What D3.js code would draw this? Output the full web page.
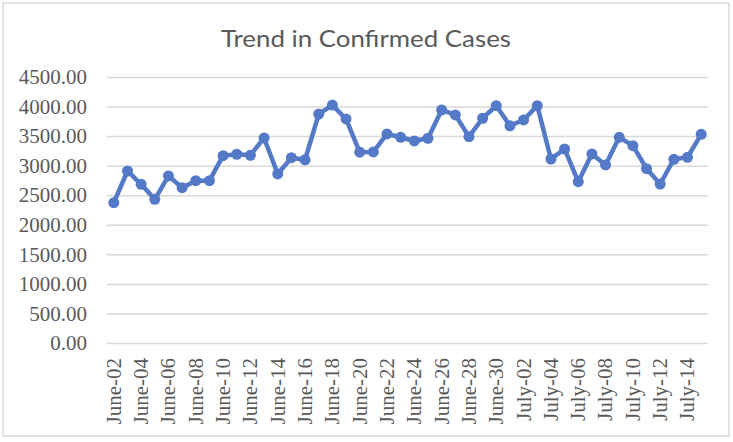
<!DOCTYPE html>
<html><head><meta charset="utf-8">
<script src="https://cdn.jsdelivr.net/npm/d3@7"></script>
<style>body{margin:0;background:#fff}svg{display:block}</style>
</head><body>
<svg id="c" width="733" height="442"></svg>
<script>
const title = "Trend in Confirmed Cases";
const dates = ["June-02","June-03","June-04","June-05","June-06","June-07","June-08","June-09","June-10","June-11","June-12","June-13","June-14","June-15","June-16","June-17","June-18","June-19","June-20","June-21","June-22","June-23","June-24","June-25","June-26","June-27","June-28","June-29","June-30","July-01","July-02","July-03","July-04","July-05","July-06","July-07","July-08","July-09","July-10","July-11","July-12","July-13","July-14","July-15"];
const cases = [2374,2910,2685,2431,2826,2628,2746,2746,3169,3193,3176,3469,2860,3135,3100,3872,4025,3790,3228,3232,3536,3480,3418,3464,3942,3858,3491,3802,4015,3675,3773,4015,3113,3282,2729,3198,3012,3480,3338,2949,2690,3108,3142,3531];
const yTicks = [0,500,1000,1500,2000,2500,3000,3500,4000,4500];

const svg = d3.select("#c");
svg.append("rect").attr("x",3).attr("y",3).attr("width",726).attr("height",433)
  .attr("fill","#fff").attr("stroke","#d9d9d9").attr("stroke-width",1.5);

const x = d3.scaleBand().domain(dates).range([107,708]).padding(0);
const y = d3.scaleLinear().domain([0,4500]).range([343,77]);

// gridlines
const yAxis = d3.axisLeft(y).tickValues(yTicks).tickSize(-(708-107)).tickFormat(d3.format(".2f")).tickPadding(20);
const gy = svg.append("g").attr("transform","translate(107,0)").call(yAxis);
gy.select(".domain").remove();
gy.selectAll(".tick line").attr("stroke","#d9d9d9").attr("stroke-width",1.5);
gy.selectAll(".tick text").attr("x",-20).attr("font-family","'Liberation Serif','Times New Roman',serif")
  .attr("font-size",21).attr("fill","#595959");

// x axis labels
const xAxis = d3.axisBottom(x).tickValues(dates.filter((d,i)=>i%2===0)).tickSize(0).tickPadding(0);
const gx = svg.append("g").attr("transform","translate(0,343)").call(xAxis);
gx.select(".domain").remove();
gx.selectAll(".tick text")
  .attr("font-family","'Liberation Serif','Times New Roman',serif").attr("font-size",21).attr("fill","#595959")
  .attr("text-anchor","end").attr("transform","rotate(-90)")
  .attr("x",-15).attr("y",0).attr("dy","0.33em");

// line
const cx = d => x(d) + x.bandwidth()/2;
const line = d3.line().x((d,i)=>cx(dates[i])).y(d=>y(d));
svg.append("path").datum(cases).attr("d",line).attr("fill","none")
  .attr("stroke","#5479c7").attr("stroke-width",4.5).attr("stroke-linejoin","round");
svg.append("g").selectAll("circle").data(cases).join("circle")
  .attr("cx",(d,i)=>cx(dates[i])).attr("cy",d=>y(d)).attr("r",5.5).attr("fill","#5479c7");

// title
svg.append("text").attr("x",366).attr("y",47).attr("text-anchor","middle")
  .attr("font-family","Lato,'Open Sans',sans-serif").attr("font-size",24).attr("fill","#595959")
  .attr("textLength",290).attr("lengthAdjust","spacingAndGlyphs").text(title);
</script>
</body></html>
